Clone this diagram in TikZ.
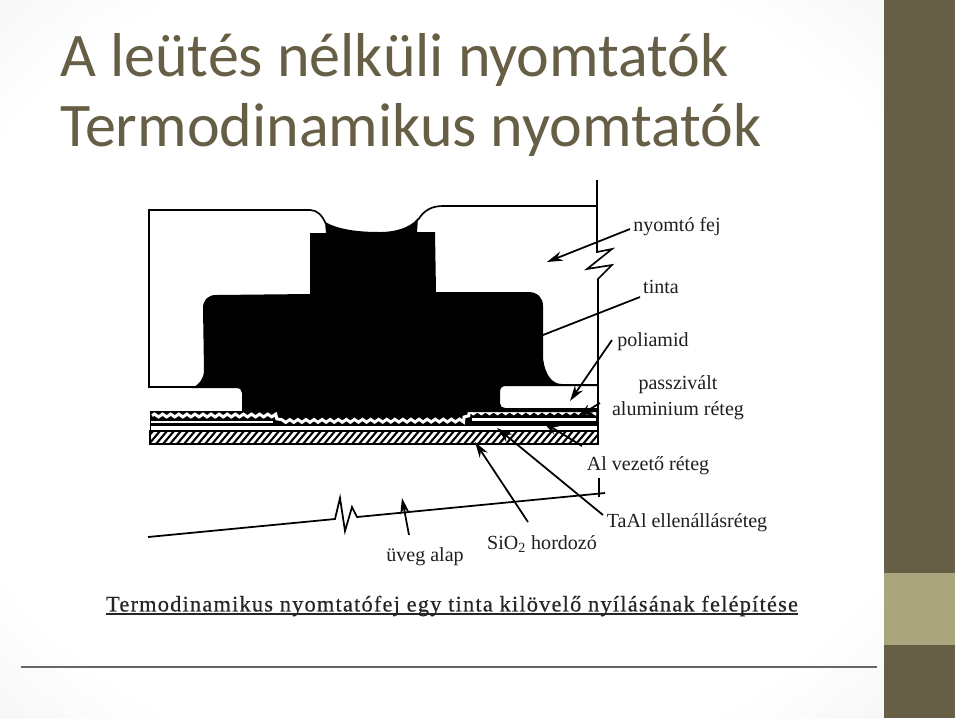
\documentclass[tikz,border=0pt]{standalone}
\usepackage{fontspec}
\setmainfont{Liberation Serif}
\newfontfamily\titlefont{Carlito}
\newfontfamily\capfont[LetterSpace=5.5,FakeBold=0.5]{Liberation Serif}
\usetikzlibrary{positioning, arrows.meta, decorations.pathmorphing}
\definecolor{sidedark}{RGB}{102,94,69}
\definecolor{sidelight}{RGB}{169,165,124}
\definecolor{slidegray}{RGB}{228,228,228}
\definecolor{labelink}{RGB}{30,30,30}
\pgfdeclareradialshading{slidevignette}{\pgfpoint{0bp}{0bp}}{color(0bp)=(white); color(29bp)=(white); color(50bp)=(slidegray)}

\begin{document}
\begin{tikzpicture}[
        x=0.02cm, y=-0.02cm,
        titletext/.style={anchor=west, inner sep=0pt, text=sidedark, font=\titlefont\fontsize{35.3}{40}\selectfont},
        label/.style={inner sep=0pt, text=labelink, font=\fontsize{11.4}{14.7}\selectfont, align=center},
        wall/.style={draw=black, line width=0.95pt},
        pointer/.style={draw=black, line width=1pt, -{Stealth[length=9pt, width=5.4pt]}},
        plainline/.style={draw=black, line width=1pt}
    ]
        \useasboundingbox (0,0) rectangle (959,718);
        % slide background
        \shade[shading=slidevignette] (0,0) rectangle (885,718);
        \fill[sidedark] (884,0) rectangle (955,718);
        \fill[sidelight] (884,573) rectangle (955,645);
        \draw[draw=black!60, line width=1.1pt] (21,667) -- (877,667);

        \node[titletext] (TITLE) at (60,60) {A leütés nélküli nyomtatók};
        \node[titletext] (SUBTITLE) at (60,130) {Termodinamikus nyomtatók};

        % layers under the head
        \fill[black] (150,411) rectangle (598,431);
        \fill[white] (151,421) rectangle (273,423);
        \fill[white] (151,425.5) rectangle (597,429.5);
        \fill[white] (472,418) rectangle (596,420.5);
        \draw[white, line width=1.7pt, decorate, decoration={snake, amplitude=0.8pt, segment length=4.6pt}]
            (152,415.5) -- (272,415.5) -- (279,422) -- (462,421.5) -- (468,414.5) -- (596,414);
        \begin{scope}
            \clip (150,431) rectangle (598,444);
            \foreach \hx in {142,149,...,615}
                \draw[black, line width=1.2pt] (\hx,444) -- ({\hx+11},431);
        \end{scope}
        \draw[wall] (150,431) rectangle (598,444);

        % ink and resistor block
        \fill[black] (310,233) -- (326,233) -- (325,222)
            .. controls (338,229) and (355,232) .. (380,232)
            .. controls (395,232) and (410,228) .. (418,218)
            -- (417,232) -- (435,232) -- (436,292) -- (528,292)
            .. controls (538,292) and (543,298) .. (543,306)
            -- (543,358) .. controls (545,375) and (552,384) .. (562,384)
            -- (598,384) -- (598,386) -- (506,386)
            .. controls (502,386) and (500,388) .. (500,392)
            -- (500,403) .. controls (500,406) and (502,408) .. (505,408)
            -- (598,408) -- (598,412) -- (242,412) -- (242,393)
            .. controls (242,390) and (240,388) .. (236,388)
            -- (192,388) .. controls (200,384) and (204,378) .. (204,370)
            -- (203,308) .. controls (203,300) and (208,295) .. (216,295)
            -- (310,294) -- cycle;

        % head outline
        \draw[wall] (195,387) -- (149,387) -- (149,210) -- (310,210)
            .. controls (317,210) and (322,215) .. (326,224);
        \draw[wall] (418,220) .. controls (424,210) and (432,206) .. (443,206) -- (597,206);
        \draw[wall] (597,180) -- (597,252) -- (612,249) -- (587,269) -- (612,265) -- (598,279) -- (598,444);

        % glass base
        \draw[plainline] (148,537) -- (335,519) -- (340,498) -- (345,531) -- (352,507) -- (357,517) -- (605,493);
        \draw[plainline] (599,478) -- (599,497);

        \node[label] (FEJ) at (677,227) {nyomtó fej};
        \node[label] (TINTA) at (661,287) {tinta};
        \node[label] (POLI) at (653,342) {poliamid};
        \node[label] (PASSZ) at (678,398) {passzivált\\aluminium réteg};
        \node[label] (VEZETO) at (648,466) {Al vezető réteg};
        \node[label] (TAAL) at (687,523) {TaAl ellenállásréteg};
        \node[label] (SIO) at (542,544) {SiO\textsubscript{2} hordozó};
        \node[label] (UVEG) at (425,557) {üveg alap};
        \node[inner sep=0pt, text=black!85, font=\capfont\fontsize{12.7}{15}\selectfont] (CAPTION) at (452,606)
            {Termodinamikus nyomtatófej egy tinta kilövelő nyílásának felépítése};
        \draw[draw=black!85, line width=0.9pt] ([yshift=-1.6pt]CAPTION.base west) -- ([yshift=-1.6pt]CAPTION.base east);

        % free ends of the pointers
        \coordinate (FEJS) at (630,229);
        \coordinate (FEJT) at (547,262);
        \coordinate (TINTAS) at (640,297);
        \coordinate (TINTAT) at (543,335);
        \coordinate (POLIS) at (612,340);
        \coordinate (POLIT) at (570,401);
        \coordinate (PASSZS) at (600,403);
        \coordinate (PASSZT) at (577,417);
        \coordinate (VEZETOS) at (582,446);
        \coordinate (VEZETOT) at (543,422);
        \coordinate (TAALS) at (603,515);
        \coordinate (TAALT) at (497,428);
        \coordinate (SIOS) at (528,522);
        \coordinate (SIOT) at (475,442);
        \coordinate (UVEGS) at (409,535);
        \coordinate (UVEGT) at (402,498);

        \draw[pointer] (FEJS) -- (FEJT);
        \draw[plainline] (TINTAS) -- (TINTAT);
        \draw[pointer] (POLIS) -- (POLIT);
        \draw[pointer] (PASSZS) -- (PASSZT);
        \draw[pointer] (VEZETOS) -- (VEZETOT);
        \draw[pointer] (TAALS) -- (TAALT);
        \draw[pointer] (SIOS) -- (SIOT);
        \draw[pointer] (UVEGS) -- (UVEGT);
    \end{tikzpicture}
\end{document}
